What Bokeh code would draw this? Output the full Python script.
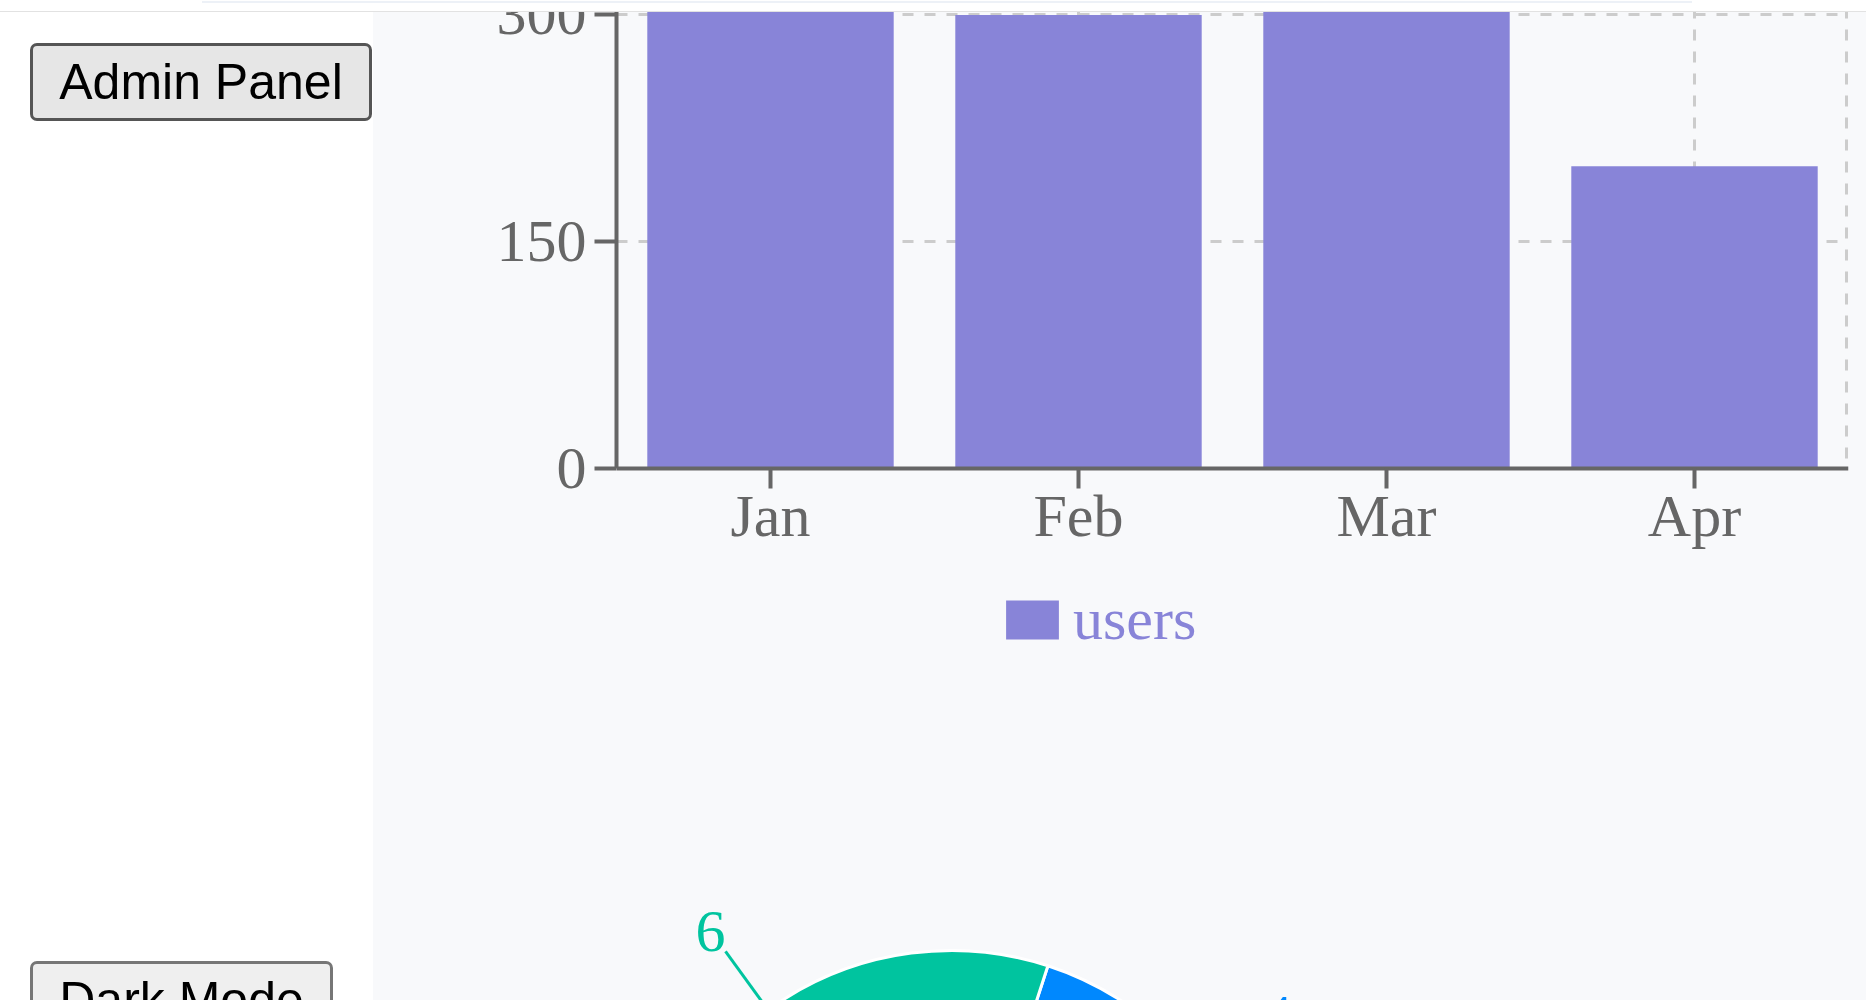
import math
from bokeh.plotting import figure
from bokeh.models import (ColumnDataSource, FactorRange, Range1d, FixedTicker,
                          Legend, LegendItem, Div, GlobalInlineStyleSheet, BoxAnnotation)
from bokeh.layouts import column, row
from bokeh.core.properties import value
from bokeh.embed import file_html
from bokeh.resources import INLINE

# ---------------- data ----------------
months = ["Jan", "Feb", "Mar", "Apr"]
users = [400, 300, 600, 200]
y_ticks = [0, 150, 300]

pie_names = ["A", "B", "C", "D"]
pie_values = [4, 6, 7, 3]
pie_colors = ["#0088FE", "#00C49F", "#FFBB28", "#FF8042"]

sidebar_buttons = ["Admin Panel", "Dark Mode"]

# ---------------- style ----------------
BG = "#f8f9fb"
BAR = "#8884d8"
AXIS = "#666666"
GRID = "#cccccc"
SERIF = "Liberation Serif"
FS = "60px"

# ---------------- header (drawn above the scrolled chart) ----------------
header = Div(
    text=('<div style="position:relative;width:1866px;height:11px;background:#fff;'
          'border-bottom:1px solid #e2e2e2;box-sizing:border-box;">'
          '<div style="position:absolute;left:202px;top:0;width:1490px;height:2px;'
          'background:#edf1f7;"></div></div>'),
    width=1866, height=11, margin=0,
    styles={"z-index": "10", "position": "relative", "background-color": "#ffffff"},
    stylesheets=[GlobalInlineStyleSheet(css="html,body{margin:0;padding:0;background:#fff;}")],
)

# ---------------- sidebar ----------------
btn_css = ("position:absolute;left:30px;height:78px;font-family:'Liberation Sans',Arial,sans-serif;"
           "font-size:50px;color:#000;padding:0;margin:0;box-sizing:border-box;border-radius:7px;"
           "line-height:1;")
sidebar_html = (
    '<div style="position:relative;width:373px;height:989px;background:#fff;overflow:hidden;">'
    f'<button style="{btn_css}top:32px;width:342px;background:#e6e6e6;border:3px solid #555;">{sidebar_buttons[0]}</button>'
    f'<button style="{btn_css}top:950px;width:303px;background:#efefef;border:3px solid #767676;">{sidebar_buttons[1]}</button>'
    '</div>'
)
sidebar = Div(text=sidebar_html, width=373, height=989, margin=0)

# ---------------- bar chart ----------------
Y_TOP = 329.4
Y_BOTTOM = -153.47
src = ColumnDataSource(dict(month=months, users=users))
bar = figure(x_range=FactorRange(*months), y_range=Range1d(Y_BOTTOM, Y_TOP),
             width=1493, height=730, output_backend="svg", toolbar_location=None,
             min_border_left=243, min_border_right=18, min_border_top=0,
             min_border_bottom=0, background_fill_color=BG, border_fill_color=BG,
             outline_line_color=None, margin=(-41, 0, 0, 0))

bar.ygrid.ticker = FixedTicker(ticks=y_ticks[1:])
bar.xgrid.ticker = FixedTicker(ticks=[0.5, 1.5, 2.5, 3.5, 3.995])
for g in (bar.xgrid[0], bar.ygrid[0]):
    g.grid_line_color = GRID
    g.grid_line_width = 3
    g.grid_line_dash = "11 11"
# hide grid below the zero line (area used by the axis labels and legend)
bar.add_layout(BoxAnnotation(top=0, fill_color=BG, fill_alpha=1, line_color=None,
                             level="underlay"))

r = bar.vbar(x="month", top="users", width=0.8, source=src, fill_color=BAR, line_color=None)

for ax in (bar.xaxis[0], bar.yaxis[0]):
    ax.axis_line_color = AXIS
    ax.axis_line_width = 4
    ax.major_tick_line_color = AXIS
    ax.major_tick_line_width = 4
    ax.major_tick_in = 0
    ax.minor_tick_line_color = None
    ax.major_label_text_font = SERIF
    ax.major_label_text_font_size = FS
    ax.major_label_text_color = AXIS
bar.xaxis[0].fixed_location = 0
bar.xaxis[0].major_tick_out = 20
bar.xaxis[0].major_label_standoff = -5
bar.yaxis[0].bounds = (0, Y_TOP)
bar.yaxis[0].major_tick_out = 22
bar.yaxis[0].major_label_standoff = 8
bar.yaxis[0].ticker = FixedTicker(ticks=y_ticks)

legend = Legend(items=[LegendItem(label="users", renderers=[r])],
                location=(383, 46), orientation="horizontal",
                glyph_width=66, glyph_height=49, label_standoff=8,
                label_text_font=SERIF, label_text_font_size=FS, label_text_color=BAR,
                padding=0, margin=0, spacing=0, border_line_color=None,
                background_fill_alpha=0)
bar.add_layout(legend, "center")

# ---------------- pie chart ----------------
R = 312
R_LABEL = 384.5
total = sum(pie_values)
starts, ends, mids = [], [], []
acc = 0
for v in pie_values:
    a0 = 2 * math.pi * acc / total
    acc += v
    a1 = 2 * math.pi * acc / total
    starts.append(a0); ends.append(a1); mids.append((a0 + a1) / 2)

pie = figure(x_range=Range1d(-335, 897), y_range=Range1d(262, 562),
             width=1493, height=300, output_backend="svg", toolbar_location=None,
             x_axis_type=None, y_axis_type=None,
             min_border_left=243, min_border_right=18, min_border_top=0, min_border_bottom=0,
             background_fill_color=BG, border_fill_color=BG, outline_line_color=None, margin=0)
pie.xgrid.visible = False
pie.ygrid.visible = False
psrc = ColumnDataSource(dict(name=pie_names, value=pie_values, start=starts, end=ends,
                             color=pie_colors))
pie.wedge(x=0, y=0, radius=R, start_angle="start", end_angle="end", source=psrc,
          fill_color="color", line_color="white", line_width=3)

x0 = [R * math.cos(m) for m in mids]
y0 = [R * math.sin(m) for m in mids]
x1 = [R_LABEL * math.cos(m) for m in mids]
y1 = [R_LABEL * math.sin(m) for m in mids]
pie.segment(x0=x0, y0=y0, x1=x1, y1=y1, line_color=pie_colors, line_width=3)

left_idx = [i for i, m in enumerate(mids) if math.cos(m) < 0]
right_idx = [i for i, m in enumerate(mids) if math.cos(m) >= 0]
for idx, align in ((left_idx, "right"), (right_idx, "left")):
    pie.text(x=[x1[i] for i in idx], y=[y1[i] for i in idx],
             text=[str(pie_values[i]) for i in idx],
             text_color=[pie_colors[i] for i in idx],
             text_align=align, text_baseline="middle", y_offset=-20,
             text_font=value(SERIF), text_font_size=FS)

charts = column(bar, pie, spacing=0, margin=0, styles={"background-color": BG})
body = row(sidebar, charts, spacing=0, margin=0)
root = column(header, body, spacing=0, margin=0)

open("out.html", "w").write(file_html(root, INLINE))
